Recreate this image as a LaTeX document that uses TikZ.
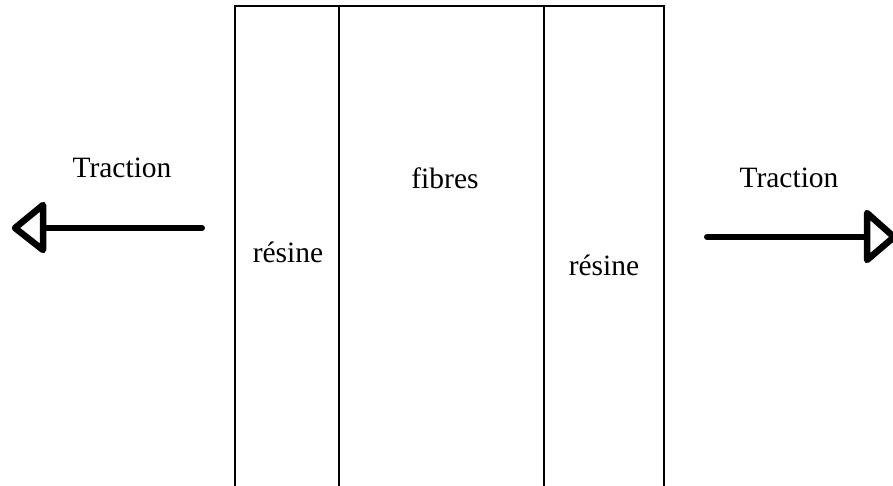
\documentclass[tikz,border=0pt]{standalone}
\usepackage{fontspec}
\setmainfont{Liberation Serif}
\begin{document}
\begin{tikzpicture}[x=1pt,y=-1pt,
  wall/.style={line width=2pt},
  shaft/.style={line width=6pt,line cap=round},
  head/.style={line width=6.5pt,line join=round,fill=white},
  lbl/.style={font=\fontsize{29.5}{34}\selectfont,anchor=base,inner sep=0pt}]
\path[use as bounding box] (0,0) rectangle (893,485);
\begin{scope}
\clip (0,0) rectangle (893,485);
% box
\coordinate (tl) at (235,6); \coordinate (bl) at (235,490);
\coordinate (t1) at (339,6); \coordinate (b1) at (339,490);
\coordinate (t2) at (544,6); \coordinate (b2) at (544,490);
\coordinate (tr) at (664,6); \coordinate (br) at (664,490);
\draw[wall] (bl) -- (tl) -- (tr) -- (br);
\draw[wall] (t1) -- (b1);
\draw[wall] (t2) -- (b2);
% left arrow
\coordinate (ls) at (202,228); \coordinate (le) at (43,228);
\coordinate (lh1) at (43,205); \coordinate (lh2) at (43,250); \coordinate (ltip) at (15,228);
\draw[shaft] (ls) -- (le);
\draw[head] (lh1) -- (ltip) -- (lh2) -- cycle;
% right arrow
\coordinate (rs) at (707,237); \coordinate (re) at (867,237);
\coordinate (rh1) at (867,213); \coordinate (rh2) at (867,260); \coordinate (rtip) at (894,237);
\draw[shaft] (rs) -- (re);
\draw[head] (rh1) -- (rtip) -- (rh2) -- cycle;
\end{scope}
% labels
\node[lbl] (tracL) at (122,177) {Traction};
\node[lbl] (tracR) at (789,187) {Traction};
\node[lbl] (fib) at (445,188) {fibres};
\node[lbl] (resL) at (288,262) {résine};
\node[lbl] (resR) at (604,275) {résine};
\end{tikzpicture}
\end{document}
